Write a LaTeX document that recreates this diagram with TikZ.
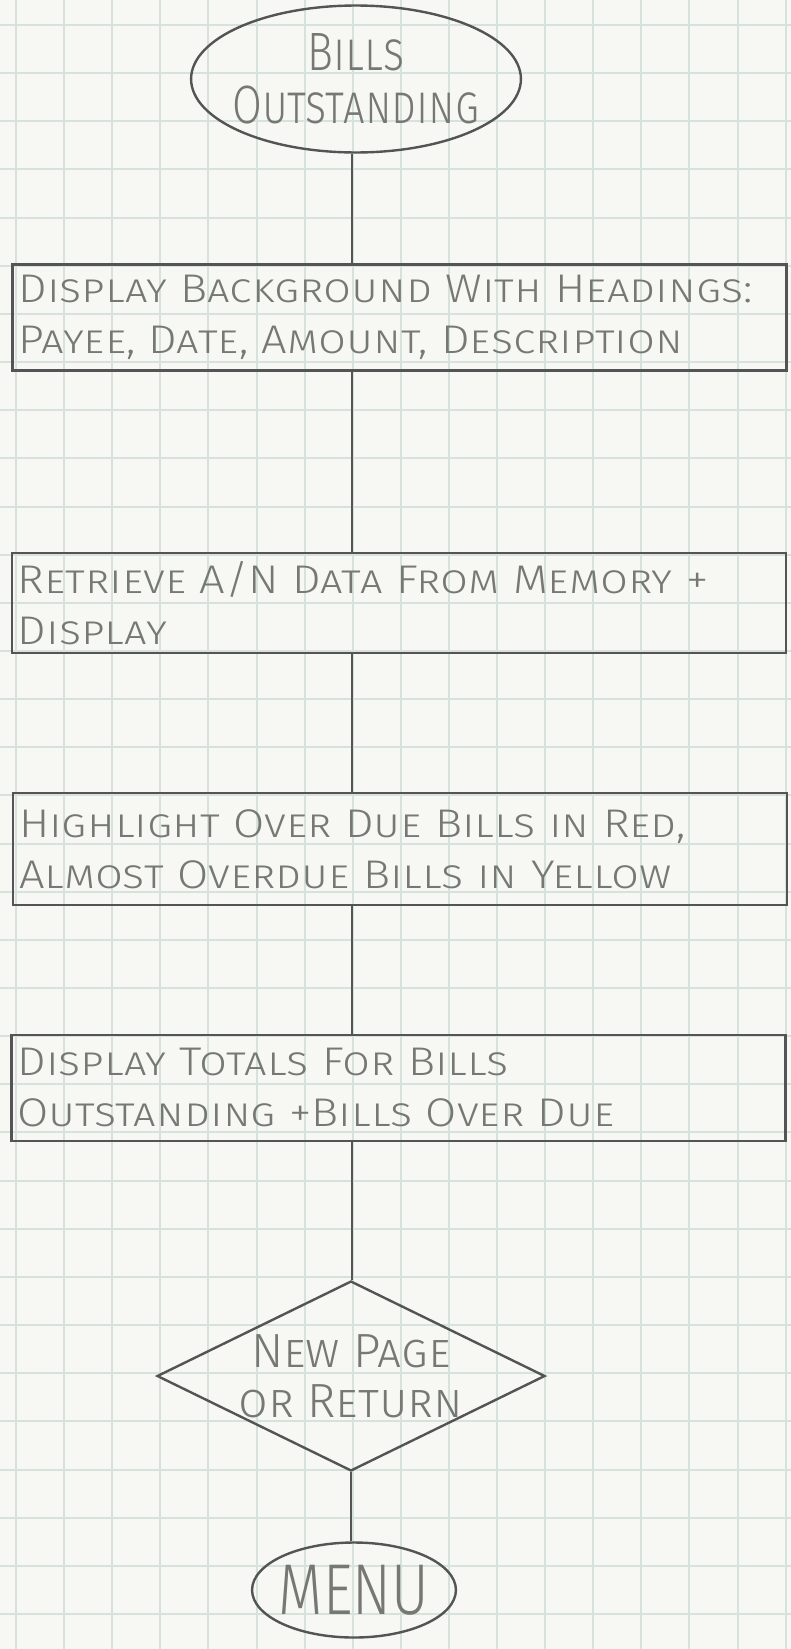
\documentclass[tikz,border=0pt]{standalone}
\usepackage{fontspec}
\setmainfont{Fira Sans Light}
\newfontfamily\handwide{Fira Sans Light}[FakeStretch=1.13]
\newfontfamily\handnarrow{Fira Sans Light}[FakeStretch=0.8]
\usepackage{xcolor}
\usetikzlibrary{shapes.geometric}
\definecolor{paper}{RGB}{247,248,244}
\definecolor{gridline}{RGB}{214,226,219}
\definecolor{pencil}{RGB}{118,120,116}
\definecolor{ink}{RGB}{84,84,84}

\begin{document}
\begin{tikzpicture}[x=0.5pt, y=-0.5pt,
        terminal/.style={draw=ink, line width=1.2pt, ellipse, text=pencil, align=center},
        process/.style={draw=ink, line width=1.4pt, rectangle, inner xsep=3pt, inner ysep=0pt, text width=381pt, align=left, text=pencil, font=\handwide\fontsize{20}{25.5}\selectfont\scshape},
        decision/.style={draw=ink, line width=1.2pt, diamond, aspect=2, inner xsep=-12pt, inner ysep=-8pt, text=pencil, align=center},
        link/.style={draw=ink, line width=1.2pt},
    ]
        % Paper and grid
        \fill[paper] (0,0) rectangle (791,1649);
        \useasboundingbox (0,0) rectangle (791,1649);
        \foreach \gx in {0,...,16}
            \draw[gridline, line width=1pt] ({16+48.1*\gx},0) -- ({16+48.1*\gx},1649);
        \foreach \gy in {0,...,33}
            \draw[gridline, line width=1pt] (0,{25+48.15*\gy}) -- (791,{25+48.15*\gy});

        % Start
        \node[terminal, inner xsep=-3.5pt, minimum width=163pt, minimum height=71pt, font=\handnarrow\fontsize{27}{26.5}\selectfont\scshape] (start) at (356,79) {Bills\\Outstanding};

        % Steps
        \node[process, minimum height=53pt] (headings) at (399.5,317.5) {Display Background With Headings:\\Payee, Date, Amount, Description};
        \node[process, minimum height=50pt] (retrieve) at (399,603) {Retrieve A/N Data From Memory +\\Display};
        \node[process, minimum height=56pt] (highlight) at (400,849) {Highlight Over Due Bills in Red,\\Almost Overdue Bills in Yellow};
        \node[process, minimum height=53pt] (totals) at (398.5,1088) {Display Totals For Bills\\Outstanding +Bills Over Due};

        % Decision and exit
        \node[decision, minimum width=194pt, minimum height=95pt, font=\fontsize{24}{25}\selectfont\scshape] (choice) at (351,1376) {New Page\\or Return};
        \node[terminal, inner xsep=-1.5pt, inner ysep=0pt, minimum width=96pt, minimum height=47.5pt, font=\handnarrow\fontsize{36}{36}\selectfont] (menu) at (354,1590) {MENU};

        % Connectors
        \coordinate (spine) at (352,0);
        \foreach \a/\b in {start/headings, headings/retrieve, retrieve/highlight, highlight/totals, totals/choice}
            \draw[link] (\a.south -| spine) -- (\b.north -| spine);
        \draw[link] (choice.south) -- (choice.south |- menu.north);
    \end{tikzpicture}
\end{document}
